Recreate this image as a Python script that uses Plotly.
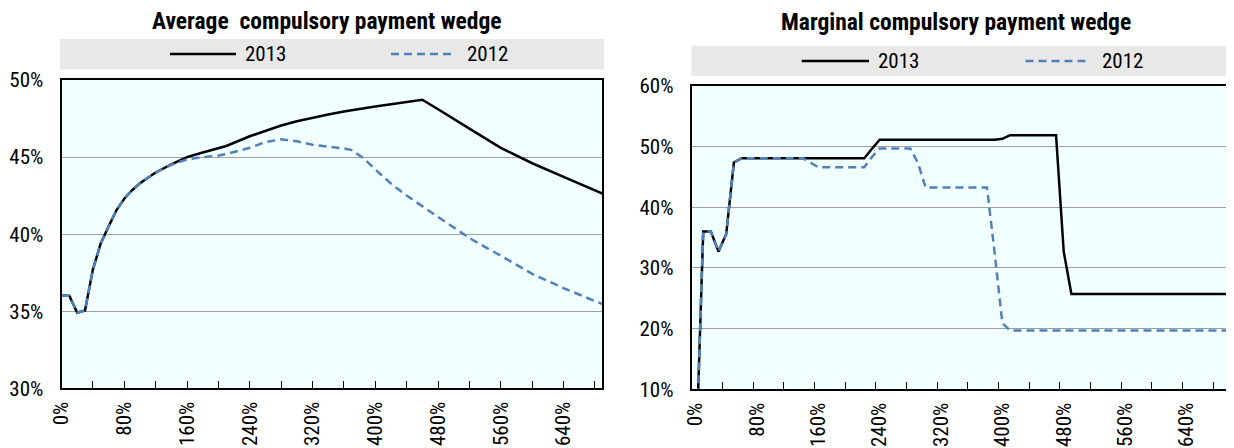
import plotly.graph_objects as go

# ---------------- data ----------------
# Average compulsory payment wedge (x = gross earnings as % of average wage)
avg_x = [0, 10, 20, 30, 40, 50, 60, 70, 80, 90, 100, 120, 140, 160, 180, 200, 210,
         240, 260, 280, 300, 320, 340, 360, 370, 385, 400, 420, 440, 460, 480, 500,
         520, 560, 600, 640, 690]
avg_2013 = [36.0, 36.0, 34.9, 35.05, 37.7, 39.4, 40.5, 41.55, 42.3, 42.85, 43.3, 44.0,
            44.52, 45.0, 45.3, 45.55, 45.72, 46.35, 46.72, 47.05, 47.32, 47.55, 47.76,
            47.95, 48.04, 48.16, 48.28, 48.42, 48.56, 48.72, 48.1, 47.45, 46.85, 45.6,
            44.6, 43.72, 42.62]
avg_2012 = [36.0, 36.0, 34.9, 35.05, 37.7, 39.4, 40.5, 41.55, 42.3, 42.85, 43.3, 44.0,
            44.5, 44.85, 45.0, 45.1, 45.2, 45.6, 45.97, 46.15, 46.02, 45.8, 45.68,
            45.56, 45.45, 44.92, 44.2, 43.28, 42.5, 41.8, 41.15, 40.4, 39.74, 38.6,
            37.42, 36.5, 35.45]

# Marginal compulsory payment wedge
mar_x = [0, 10, 20, 30, 40, 50, 60, 140, 160, 220, 230, 240, 280, 290, 300, 380, 390,
         400, 410, 470, 480, 490, 705]
mar_2013 = [-4, 36.0, 36.0, 32.7, 35.6, 47.4, 48.1, 48.1, 48.1, 48.1, 49.65, 51.15,
            51.15, 51.15, 51.15, 51.15, 51.15, 51.3, 51.9, 51.9, 32.7, 25.7, 25.7]
mar_2012 = [-4, 36.0, 36.0, 32.7, 35.6, 47.4, 48.1, 48.1, 46.6, 46.6, 48.3, 49.7,
            49.7, 47.3, 43.25, 43.25, 32.4, 20.9, 19.7, 19.7, 19.7, 19.7, 19.7]

series_names = ["2013", "2012"]
x_label_vals = [0, 80, 160, 240, 320, 400, 480, 560, 640]
x_label_text = ["0%", "80%", "160%", "240%", "320%", "400%", "480%", "560%", "640%"]
titles = ["Average  compulsory payment wedge", "Marginal compulsory payment wedge"]

# ---------------- style ----------------
OFF = 8                       # default page margin of the browser body
W, H = 1234 - OFF, 448 - OFF
FONT = "Roboto Condensed, Liberation Sans Narrow, Arial Narrow, Roboto, sans-serif"
BLACK = "#000000"
BLUE = "#4F81BD"
PLOT_BG = "#F2FFFF"
BAND = "#E8E8E8"
GRID = "#A0A0A0"
DASH = "8px,5px"


def fx(p):
    return (p - OFF) / W


def fy(p):
    return 1 - (p - OFF) / H


fig = go.Figure()

fig.add_trace(go.Scatter(x=avg_x, y=avg_2013, mode="lines", name=series_names[0],
                         line=dict(color=BLACK, width=2.5), xaxis="x", yaxis="y",
                         showlegend=False))
fig.add_trace(go.Scatter(x=avg_x, y=avg_2012, mode="lines", name=series_names[1],
                         line=dict(color=BLUE, width=2.5, dash=DASH), xaxis="x", yaxis="y",
                         showlegend=False))
fig.add_trace(go.Scatter(x=mar_x, y=mar_2013, mode="lines", name=series_names[0],
                         line=dict(color=BLACK, width=2.5), xaxis="x2", yaxis="y2",
                         showlegend=False))
fig.add_trace(go.Scatter(x=mar_x, y=mar_2012, mode="lines", name=series_names[1],
                         line=dict(color=BLUE, width=2.5, dash=DASH), xaxis="x2", yaxis="y2",
                         showlegend=False))

tickfont = dict(family=FONT, size=21, color="black")

common_x = dict(
    tickmode="array", tickvals=x_label_vals, ticktext=x_label_text, tickangle=-90,
    tickfont=tickfont, showgrid=False, zeroline=False, showline=True,
    linecolor="black", linewidth=2, mirror=True, ticks="", ticklabelstandoff=3,
    automargin=False,
)
common_y = dict(
    tickfont=tickfont, ticksuffix="%", showgrid=True, gridcolor=GRID, gridwidth=1.3,
    zeroline=False, showline=True, linecolor="black", linewidth=2, ticks="",
    ticklabelstandoff=12, automargin=False,
)

fig.update_layout(
    template="none",
    width=W, height=H, autosize=False,
    margin=dict(l=0, r=0, t=0, b=0, pad=0),
    paper_bgcolor="white", plot_bgcolor=PLOT_BG,
    showlegend=False,
    xaxis=dict(common_x, domain=[fx(61.5), fx(602)], range=[0, 689],
               minor=dict(tickvals=list(range(40, 689, 40)), ticks="inside", ticklen=7,
                          tickcolor="black", tickwidth=1.3, showgrid=False),
               anchor="y"),
    yaxis=dict(common_y, domain=[fy(388.3), fy(80)], range=[30, 50], dtick=5,
               mirror=True, anchor="x"),
    xaxis2=dict(common_x, domain=[fx(691.7), 1.0], range=[-5, 702], mirror=True,
                minor=dict(tickvals=list(range(35, 702, 40)), ticks="inside", ticklen=7,
                           tickcolor="black", tickwidth=1.3, showgrid=False),
                anchor="y2"),
    yaxis2=dict(common_y, domain=[fy(389.3), fy(86)], range=[10, 60], dtick=10,
                mirror=False, anchor="x2"),
)

shapes = []
annotations = []

# legend bands
bands = [(60, 604, 39, 69.3), (691.4, 1234, 45.7, 76)]
for (x0, x1, y0, y1) in bands:
    shapes.append(dict(type="rect", xref="paper", yref="paper", x0=fx(x0), x1=fx(x1),
                       y0=fy(y1), y1=fy(y0), fillcolor=BAND, line=dict(width=0), layer="below"))

# legend entries: (line x0, line x1, text x, y)
legend_pos = [
    [(170, 236, 243, 54), (391, 455, 465, 54)],
    [(801.7, 869, 876, 61), (1025.5, 1090, 1100, 61)],
]
styles = [dict(color=BLACK, width=2.5), dict(color=BLUE, width=2.5, dash=DASH)]
for chart in legend_pos:
    for (lx0, lx1, tx, ty), st, nm in zip(chart, styles, series_names):
        shapes.append(dict(type="line", xref="paper", yref="paper", x0=fx(lx0), x1=fx(lx1),
                           y0=fy(ty), y1=fy(ty), line=st))
        annotations.append(dict(xref="paper", yref="paper", x=fx(tx), y=fy(ty), text=nm,
                                showarrow=False, xanchor="left", yanchor="middle",
                                font=dict(family=FONT, size=21, color="black")))

# titles
for t, (cx, cy) in zip(titles, [(327, 21), (956, 22)]):
    annotations.append(dict(xref="paper", yref="paper", x=fx(cx), y=fy(cy), text=t,
                            showarrow=False, xanchor="center", yanchor="middle",
                            font=dict(family=FONT, size=23.5, color="black", weight="bold")))

fig.update_layout(shapes=shapes, annotations=annotations)

fig.write_html("out.html", config={"displayModeBar": False})
